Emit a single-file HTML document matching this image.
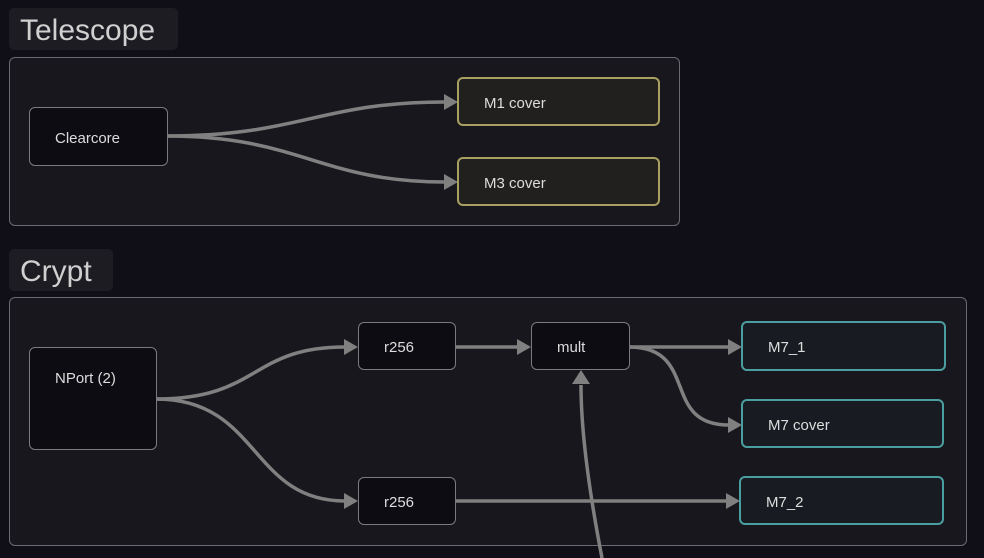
<!DOCTYPE html>
<html><head><style>
body{margin:0;background:#100f18;width:984px;height:558px;overflow:hidden;font-family:"Liberation Sans",sans-serif;position:relative}
.lbl{position:absolute;background:#1d1c22;border-radius:5px;color:#d0d0d0;font-size:30px;padding:0 11px;line-height:42px;height:42px;padding-top:2px;box-sizing:border-box}
.grp{position:absolute;background:#18171d;border:1.5px solid #6a6a70;border-radius:6px;box-sizing:border-box}
.n{position:absolute;box-sizing:border-box;border-radius:6px;border:1.5px solid #7a7a80;background:#0d0c12;color:#ddd;font-size:15px;display:flex;align-items:center;padding-left:25px;padding-top:3px}
.y{border:2.5px solid #a8a060;background:#22201f}
.t{border:2.5px solid #4a9ea0;background:#181c22}
svg{position:absolute;left:0;top:0}
</style></head><body>
<div class="lbl" style="left:9px;top:8px;width:169px;">Telescope</div>
<div class="grp" style="left:9px;top:57px;width:671px;height:169px"></div>
<div class="lbl" style="left:9px;top:249px;width:104px;">Crypt</div>
<div class="grp" style="left:9px;top:297px;width:958px;height:249px"></div>
<svg width="984" height="558" fill="none" stroke="#808080" stroke-width="3.5">
<path d="M167 136 C300 136 320 102 445 102"/>
<path d="M167 136 C300 136 320 182 445 182"/>
<path d="M156 399 C260 399 250 347 345 347"/>
<path d="M156 399 C260 399 250 501 345 501"/>
<path d="M455 347 L518 347"/>
<path d="M629 347 L729 347"/>
<path d="M629 347 C700 347 660 425 729 425"/>
<path d="M455 501 L727 501"/>
<path d="M602 558 C585 470 581 420 581 385"/>
<g fill="#808080" stroke="none">
<polygon points="458,102 444,94 444,110"/>
<polygon points="458,182 444,174 444,190"/>
<polygon points="358,347 344,339 344,355"/>
<polygon points="358,501 344,493 344,509"/>
<polygon points="531,347 517,339 517,355"/>
<polygon points="742,347 728,339 728,355"/>
<polygon points="742,425 728,417 728,433"/>
<polygon points="740,501 726,493 726,509"/>
<polygon points="581,370 572,384 590,384"/>
</g>
</svg>
<div class="n" style="left:29px;top:107px;width:139px;height:59px">Clearcore</div>
<div class="n y" style="left:457px;top:77px;width:203px;height:49px">M1 cover</div>
<div class="n y" style="left:457px;top:157px;width:203px;height:49px">M3 cover</div>
<div class="n" style="left:29px;top:347px;width:128px;height:103px;align-items:flex-start;padding-top:22px">NPort (2)</div>
<div class="n" style="left:358px;top:322px;width:98px;height:48px">r256</div>
<div class="n" style="left:531px;top:322px;width:99px;height:48px">mult</div>
<div class="n" style="left:358px;top:477px;width:98px;height:48px">r256</div>
<div class="n t" style="left:741px;top:321px;width:205px;height:50px">M7_1</div>
<div class="n t" style="left:741px;top:399px;width:203px;height:49px">M7 cover</div>
<div class="n t" style="left:739px;top:476px;width:205px;height:49px">M7_2</div>
</body></html>
